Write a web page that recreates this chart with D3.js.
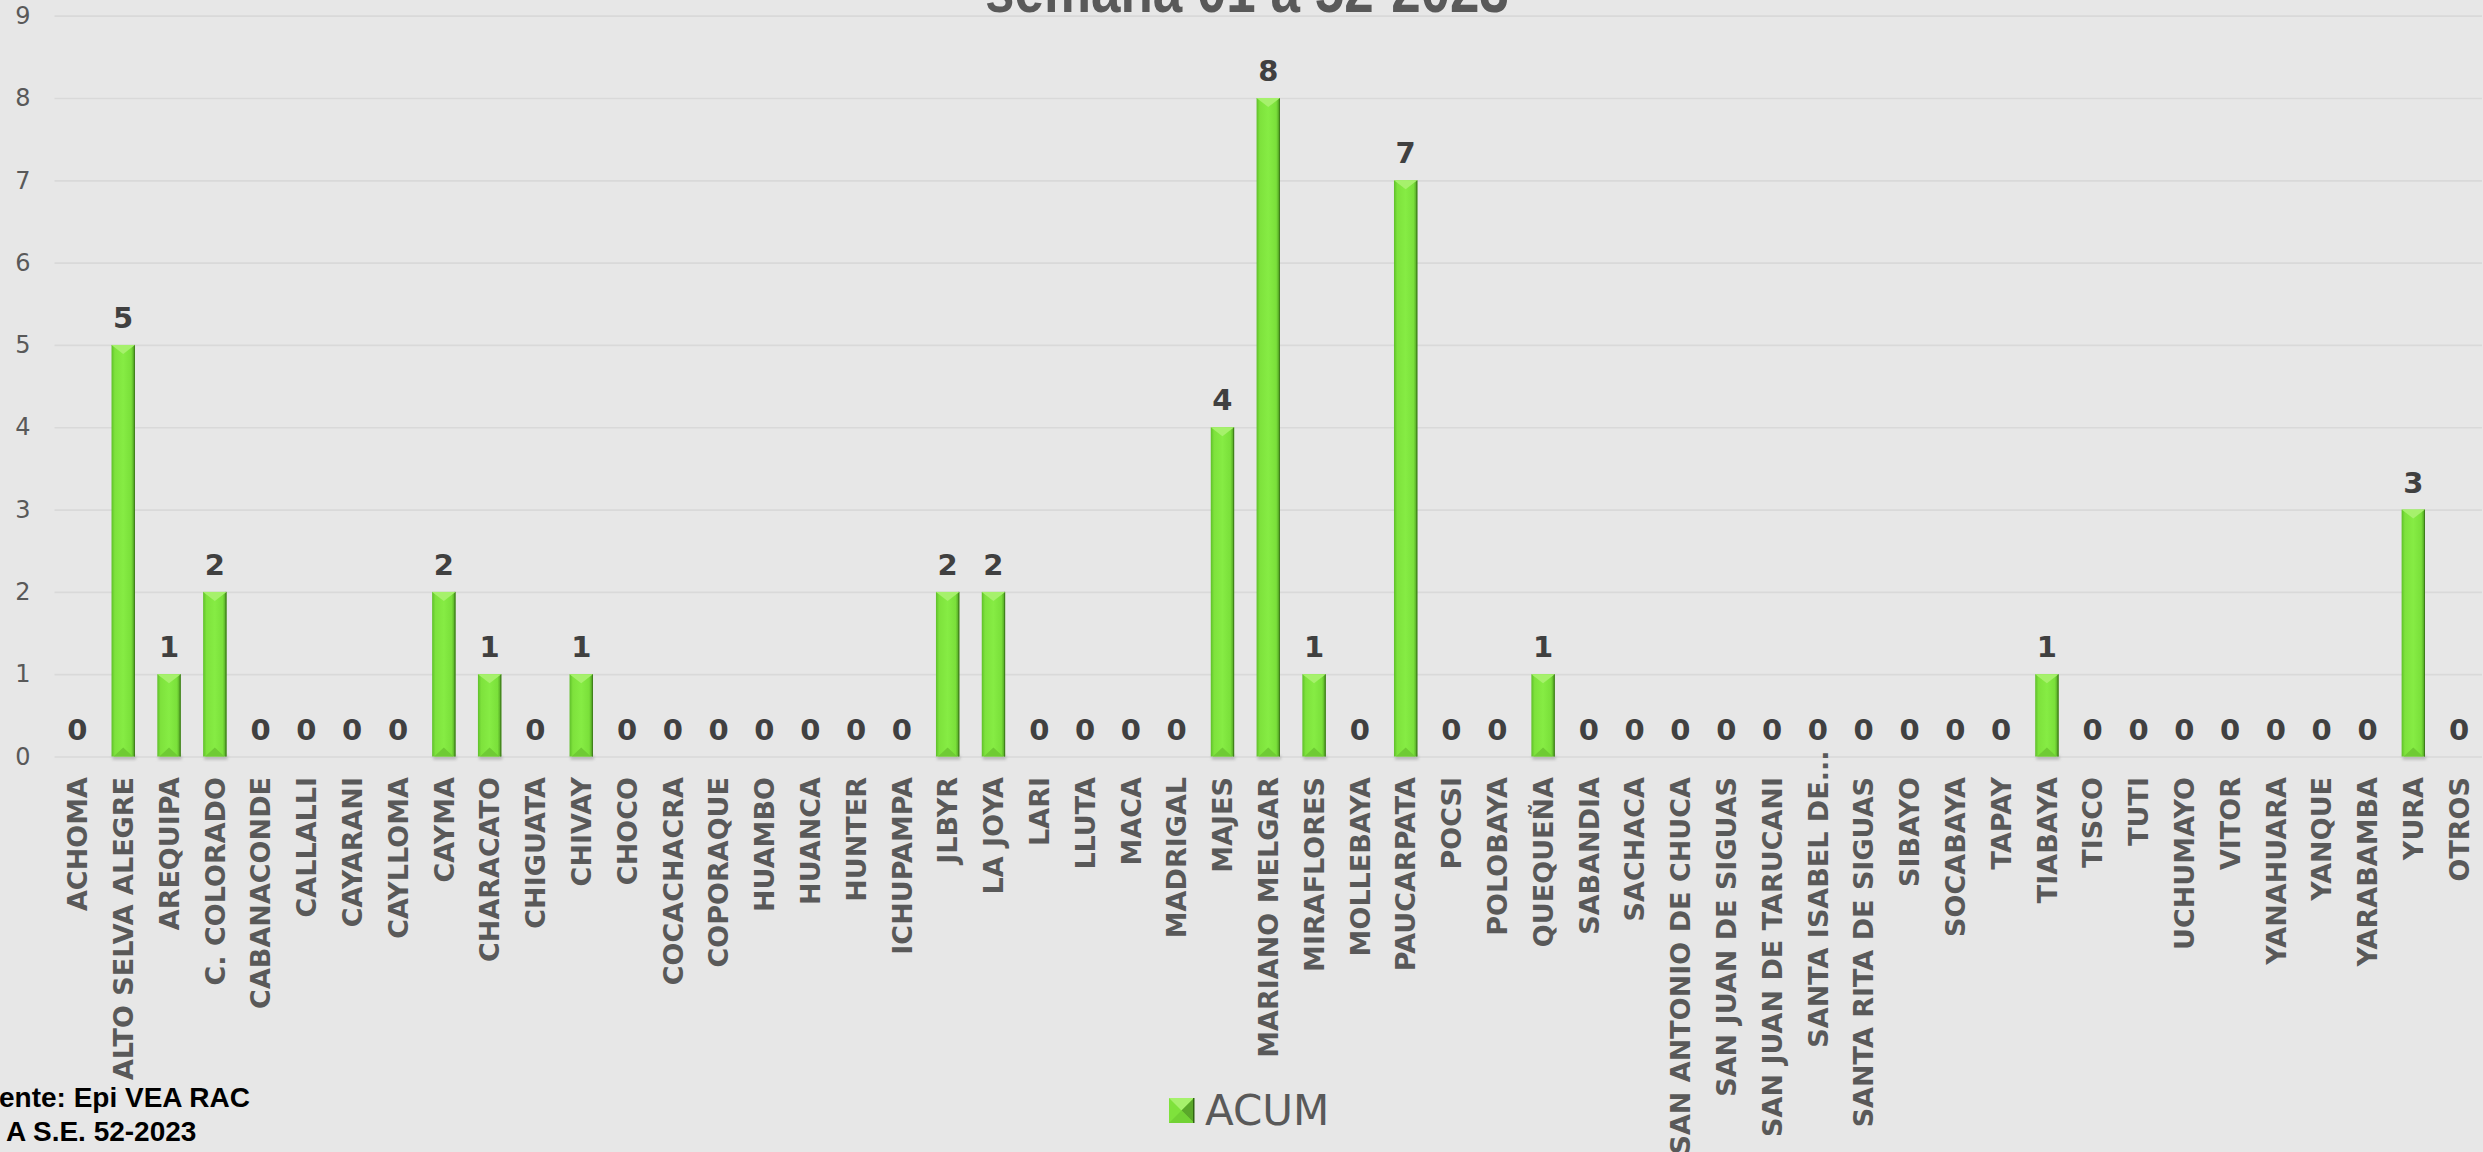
<!DOCTYPE html>
<html>
<head>
<meta charset="utf-8">
<script src="https://cdn.jsdelivr.net/npm/d3@7"></script>
<style>
  html, body { margin: 0; padding: 0; background: #e7e7e7; overflow: hidden; }
  svg { display: block; }
</style>
</head>
<body>
<svg class="chart"></svg>
<script>
const width = 2483;
const height = 1152;

// data
const districts = ['ACHOMA', 'ALTO SELVA ALEGRE', 'AREQUIPA', 'C. COLORADO', 'CABANACONDE', 'CALLALLI',
    'CAYARANI', 'CAYLLOMA', 'CAYMA', 'CHARACATO', 'CHIGUATA', 'CHIVAY', 'CHOCO', 'COCACHACRA',
    'COPORAQUE', 'HUAMBO', 'HUANCA', 'HUNTER', 'ICHUPAMPA', 'JLBYR', 'LA JOYA', 'LARI', 'LLUTA',
    'MACA', 'MADRIGAL', 'MAJES', 'MARIANO MELGAR', 'MIRAFLORES', 'MOLLEBAYA', 'PAUCARPATA', 'POCSI',
    'POLOBAYA', 'QUEQUEÑA', 'SABANDIA', 'SACHACA', 'SAN ANTONIO DE CHUCA', 'SAN JUAN DE SIGUAS',
    'SAN JUAN DE TARUCANI', 'SANTA ISABEL DE...', 'SANTA RITA DE SIGUAS', 'SIBAYO', 'SOCABAYA',
    'TAPAY', 'TIABAYA', 'TISCO', 'TUTI', 'UCHUMAYO', 'VITOR', 'YANAHUARA', 'YANQUE', 'YARABAMBA',
    'YURA', 'OTROS'];
const acum = [0, 5, 1, 2, 0, 0,
    0, 0, 2, 1, 0, 1, 0, 0,
    0, 0, 0, 0, 0, 2, 2, 0, 0,
    0, 0, 4, 8, 1, 0, 7, 0,
    0, 1, 0, 0, 0, 0,
    0, 0, 0, 0, 0,
    0, 1, 0, 0, 0, 0, 0, 0, 0,
    3, 0];
const yTicks = [0, 1, 2, 3, 4, 5, 6, 7, 8, 9];
const seriesName = 'ACUM';
const titleText = 'semana 01 a 52-2023';
const sourceLines = ['Fuente: Epi VEA RAC', 'A S.E. 52-2023'];

const data = districts.map((d, i) => ({ name: d, value: acum[i] }));

// svg element
const svg = d3.select('.chart')
    .attr('width', width)
    .attr('height', height);

svg.append('rect')
    .attr('width', width)
    .attr('height', height)
    .attr('fill', '#e7e7e7');

// gradients for the bevelled bars
const defs = svg.append('defs');
const barGrad = defs.append('linearGradient')
    .attr('id', 'barGrad')
    .attr('x1', 0).attr('x2', 1).attr('y1', 0).attr('y2', 0);
[['0%', '#5fbf2a'], ['14%', '#7ee23c'], ['50%', '#86ec44'], ['84%', '#7ae03a'], ['100%', '#4c9a20']]
    .forEach(s => barGrad.append('stop').attr('offset', s[0]).attr('stop-color', s[1]));

const shadow = defs.append('filter').attr('id', 'shadow')
    .attr('x', '-50%').attr('y', '-50%').attr('width', '200%').attr('height', '200%');
shadow.append('feGaussianBlur').attr('stdDeviation', 1.5);

// scales
const plotLeft = 54.5;
const plotRight = 2482;
const plotTop = 15.7;
const plotBottom = 756.5;

const xScale = d3.scaleBand()
    .domain(districts)
    .range([plotLeft, plotRight])
    .paddingInner(0.49)
    .paddingOuter(0.245);

const yScale = d3.scaleLinear()
    .domain([0, 9])
    .range([plotBottom, plotTop]);

// title (cropped at top)
svg.append('text')
    .attr('text-anchor', 'middle')
    .attr('x', 1247)
    .attr('y', 12)
    .attr('fill', '#595959')
    .attr('font-family', '"Liberation Sans Narrow", "Arial Narrow", "Liberation Sans", sans-serif')
    .attr('font-weight', 'bold')
    .attr('font-size', 64)
    .attr('textLength', 524)
    .attr('lengthAdjust', 'spacingAndGlyphs')
    .text(titleText);

// y axis + gridlines
const yAxis = d3.axisLeft(yScale)
    .tickValues(yTicks)
    .tickSize(-(plotRight - plotLeft))
    .tickPadding(24)
    .tickFormat(d3.format('d'));

const yG = svg.append('g')
    .attr('transform', `translate(${plotLeft},0)`)
    .call(yAxis);
yG.select('.domain').remove();
yG.selectAll('line')
    .attr('stroke', '#d9d9d9')
    .attr('stroke-width', 1.7);
yG.selectAll('text')
    .attr('fill', '#595959')
    .attr('font-family', '"DejaVu Sans", sans-serif')
    .attr('font-size', 24);

// x axis
const xAxis = d3.axisBottom(xScale).tickSize(0);
const xG = svg.append('g')
    .attr('transform', `translate(0,${plotBottom})`)
    .call(xAxis);
xG.select('.domain').remove();
xG.selectAll('text')
    .attr('transform', 'rotate(-90)')
    .attr('text-anchor', 'end')
    .attr('x', d => d.endsWith('...') ? 6 : -20.5)
    .attr('y', 0)
    .attr('dy', '0.36em')
    .attr('fill', '#595959')
    .attr('font-family', '"DejaVu Sans", sans-serif')
    .attr('font-weight', 'bold')
    .attr('font-size', 27);

// bars
const bars = svg.append('g')
    .selectAll('g')
    .data(data.filter(d => d.value > 0))
    .enter()
    .append('g');

const bw = xScale.bandwidth();
const bev = 9;

bars.append('rect')
    .attr('x', d => xScale(d.name) + 1)
    .attr('y', plotBottom - 1)
    .attr('width', bw)
    .attr('height', 4)
    .attr('fill', '#b5b5b5')
    .attr('filter', 'url(#shadow)');

bars.append('rect')
    .attr('x', d => xScale(d.name))
    .attr('y', d => yScale(d.value))
    .attr('width', bw)
    .attr('height', d => plotBottom - yScale(d.value))
    .attr('fill', 'url(#barGrad)');

bars.append('line')
    .attr('x1', d => xScale(d.name) + bw - 0.5)
    .attr('x2', d => xScale(d.name) + bw - 0.5)
    .attr('y1', d => yScale(d.value))
    .attr('y2', plotBottom)
    .attr('stroke', '#3e7d1a')
    .attr('stroke-width', 1);

// top bevel
bars.append('path')
    .attr('d', d => {
        const x0 = xScale(d.name), y0 = yScale(d.value);
        return `M${x0},${y0}L${x0 + bw},${y0}L${x0 + bw / 2},${y0 + bev}Z`;
    })
    .attr('fill', '#a6f16c');

// bottom bevel
bars.append('path')
    .attr('d', d => {
        const x0 = xScale(d.name);
        return `M${x0 + 2},${plotBottom}L${x0 + bw - 2},${plotBottom}L${x0 + bw / 2},${plotBottom - bev}Z`;
    })
    .attr('fill', '#6fcb34');

// value labels
svg.append('g')
    .selectAll('text')
    .data(data)
    .enter()
    .append('text')
    .attr('text-anchor', 'middle')
    .attr('x', d => xScale(d.name) + bw / 2)
    .attr('y', d => yScale(d.value) - 17)
    .attr('fill', '#404040')
    .attr('font-family', '"DejaVu Sans", sans-serif')
    .attr('font-weight', 'bold')
    .attr('font-size', 29)
    .text(d => d.value);

// legend
const legend = svg.append('g')
    .attr('transform', 'translate(1169,1098)');
const ls = 25;
legend.append('rect')
    .attr('width', ls).attr('height', ls)
    .attr('fill', '#7fe23c');
legend.append('path')
    .attr('d', `M0,0L${ls},0L${ls / 2},${ls / 2}Z`)
    .attr('fill', '#a6f16c');
legend.append('path')
    .attr('d', `M${ls},0L${ls},${ls}L${ls / 2},${ls / 2}Z`)
    .attr('fill', '#5aa82a');
legend.append('path')
    .attr('d', `M0,${ls}L${ls},${ls}L${ls / 2},${ls / 2}Z`)
    .attr('fill', '#72d234');
legend.append('rect')
    .attr('x', ls - 1).attr('width', 1.5).attr('height', ls)
    .attr('fill', '#2f6412');
legend.append('text')
    .attr('x', 36)
    .attr('y', 27)
    .attr('fill', '#595959')
    .attr('font-family', '"DejaVu Sans", sans-serif')
    .attr('font-size', 42)
    .text(seriesName);

// source note (cropped at left)
svg.append('text')
    .attr('text-anchor', 'end')
    .attr('x', 250)
    .attr('y', 1107)
    .attr('fill', '#000')
    .attr('font-family', '"Liberation Sans", Arial, sans-serif')
    .attr('font-weight', 'bold')
    .attr('font-size', 28)
    .text(sourceLines[0]);

svg.append('text')
    .attr('x', 6)
    .attr('y', 1141)
    .attr('fill', '#000')
    .attr('font-family', '"Liberation Sans", Arial, sans-serif')
    .attr('font-weight', 'bold')
    .attr('font-size', 28)
    .text(sourceLines[1]);
</script>
</body>
</html>
